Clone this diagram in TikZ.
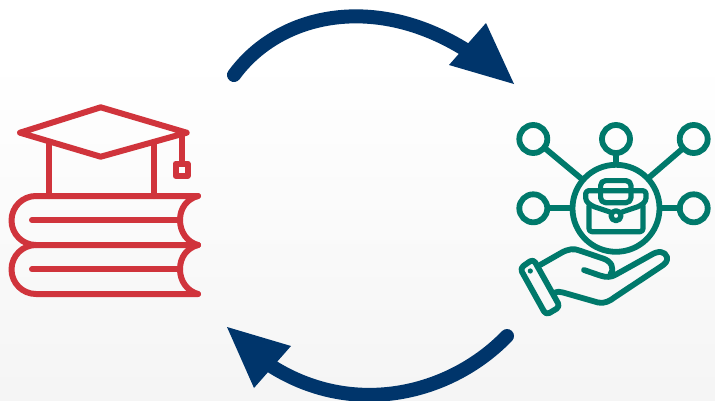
\documentclass[tikz,border=0pt]{standalone}
\definecolor{bookred}{HTML}{D0343C}
\definecolor{tealc}{HTML}{00796B}
\definecolor{navy}{HTML}{00356B}
\tikzset{
  redline/.style={draw=bookred,line width=6pt,line cap=round,line join=round},
  teal/.style={draw=tealc,line width=5.8pt,line cap=round,line join=round},
  tealthin/.style={draw=tealc,line width=5.2pt,line cap=round,line join=round},
  navyline/.style={draw=navy,line width=14pt,line cap=round},
}
\begin{document}
\begin{tikzpicture}[x=1pt,y=-1pt]
\useasboundingbox (0,0) rectangle (715,400);
\fill[white] (0,0) rectangle (715,60);
\shade[top color=white,bottom color=black!4,shading angle=0] (0,60) rectangle (715,400);
\begin{scope}
\clip (0,0) rectangle (715,400);
% arrows
\draw[navyline] (234,75) .. controls (280,12) and (380,-9) .. (475,56);
\fill[navy] (514,84) -- (486,23) -- (449,65) -- cycle;
\draw[navyline] (507,336) .. controls (450,395) and (350,420) .. (265,362);
\fill[navy] (227,327) -- (254,388) -- (291,346) -- cycle;
% cap
\draw[redline] (20,132.7) -- (100.7,107.3) -- (186.7,132.7) -- (100.7,156.7) -- cycle;
\draw[redline] (49.3,143) -- (49.3,196);
\draw[redline] (153.7,143) -- (153.7,196);
\draw[redline] (181.7,132.7) -- (181.7,163);
\draw[redline] (175.5,163.5) rectangle (187.5,175.8);
% books
\draw[redline] (198,196) -- (36,196) arc[start angle=-90,end angle=-270,radius=24.5] -- (198,245);
\draw[redline] (36,245) arc[start angle=-90,end angle=-270,radius=24.5] -- (198,294);
\draw[redline] (198,196) .. controls (187,199) and (180,208) .. (180,220) .. controls (180,232) and (187,242) .. (198,245);
\draw[redline] (198,245) .. controls (187,248) and (180,257) .. (180,269.3) .. controls (180,281) and (187,291) .. (198,294);
\draw[redline] (32,220) -- (180,220);
\draw[redline] (32,269.3) -- (180,269.3);
% network
\draw[teal] (533.3,139) circle (14);
\draw[teal] (616,139) circle (14);
\draw[teal] (693.7,139) circle (14);
\draw[teal] (533.3,208.3) circle (14);
\draw[teal] (693.7,208.3) circle (14);
\draw[teal] (616,208.3) circle (43.5);
\draw[teal] (545,148.3) -- (581,178.3);
\draw[teal] (616,155) -- (616,163);
\draw[teal] (683,148.3) -- (650,176.7);
\draw[teal] (548,208.3) -- (571.7,208.3);
\draw[teal] (661.7,208.3) -- (680,208.3);
% briefcase
\draw[tealthin,rounded corners=5pt] (600.6,190.7) -- (600.6,180.6) -- (631,180.6) -- (631,202.7) -- (600.6,202.7) -- cycle;
\draw[tealthin,rounded corners=3pt] (610,212) -- (592,206) -- (585.7,201) -- (585.7,190.7) -- (646,190.7) -- (646,201) -- (640,206) -- (622,212);
\draw[tealthin,rounded corners=3pt] (589,206) -- (589,231.7) -- (643,231.7) -- (643,206);
\draw[tealthin] (616,215.7) circle (5);
% hand
\draw[teal,rounded corners=4pt] (520,268.3) -- (533.3,259) -- (560,306.7) -- (546,315) -- cycle;
\fill[tealc] (530.3,271) circle (2.6);
\draw[teal] (540,265) -- (561,253) .. controls (568,249) and (574,248) .. (580,250.7) -- (603,258.5) .. controls (611,261) and (615,268) .. (610.5,274);
\draw[teal] (584,270) -- (600,275.5) .. controls (606,277.5) and (611,277.5) .. (616,274.5) -- (651,255) .. controls (658,250.5) and (665,251) .. (667,257) .. controls (668,261) and (665,264) .. (661,266.5) -- (615,297) .. controls (610,301) and (604,304) .. (598,302.5) -- (563,292.5) .. controls (560,291.5) and (557,291.5) .. (555,292.5);
\end{scope}
\end{tikzpicture}
\end{document}
